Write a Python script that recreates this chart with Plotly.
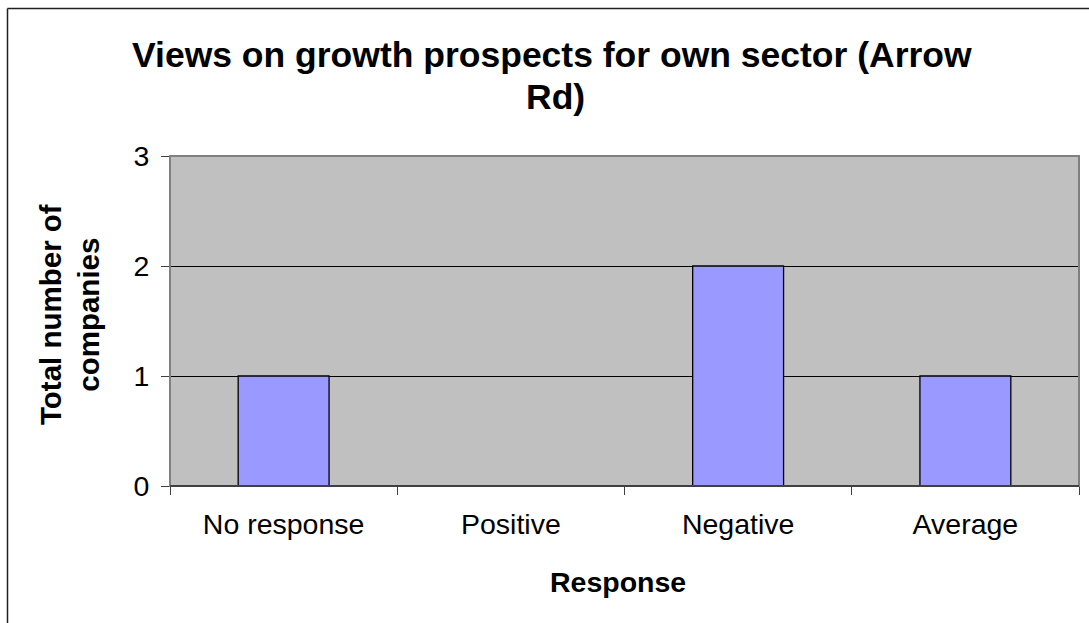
import plotly.graph_objects as go

categories = ["No response", "Positive", "Negative", "Average"]
values = [1, 0, 2, 1]
y_ticks = [0, 1, 2, 3]
title_lines = ["Views on growth prospects for own sector (Arrow", "Rd)"]
x_title = "Response"
y_title = "Total number of<br>companies"

W, H = 1089, 623
L, R, T, B = 170, 10, 156, 137
PW, PH = W - L - R, H - T - B

def px(x):
    return (x - L) / PW

def py(y):
    return (H - B - y) / PH

FONT = "Liberation Sans, Arial, sans-serif"

fig = go.Figure(go.Bar(
    x=categories, y=values,
    marker=dict(color="#9999FF", line=dict(color="black", width=1.3)),
))

fig.update_layout(
    width=W, height=H,
    margin=dict(l=L, r=R, t=T, b=B, autoexpand=False),
    paper_bgcolor="white", plot_bgcolor="#C0C0C0",
    bargap=0.6, showlegend=False,
    font=dict(family=FONT, size=28, color="black"),
)
fig.update_xaxes(
    type="category", tickson="boundaries", ticks="outside", ticklen=8,
    tickcolor="#404040", showline=True, linecolor="black", linewidth=1,
    showgrid=False, tickfont=dict(size=28.5), ticklabelstandoff=13,
)
fig.update_yaxes(
    range=[0, 3], tickvals=y_ticks, ticks="outside", ticklen=8,
    tickcolor="#404040", showline=True, linecolor="#404040", linewidth=1,
    showgrid=True, gridcolor="black", gridwidth=1, zeroline=False,
    tickfont=dict(size=28.5), ticklabelstandoff=6,
)

shapes = [
    dict(type="rect", xref="paper", yref="paper", x0=0, x1=1, y0=0, y1=1,
         line=dict(color="#808080", width=2), layer="above"),
    dict(type="line", xref="paper", yref="paper", x0=0, x1=1, y0=0, y1=0,
         line=dict(color="black", width=1), layer="above"),
    dict(type="line", xref="paper", yref="paper", x0=px(7.5), x1=px(1100), y0=py(8.5), y1=py(8.5),
         line=dict(color="#202020", width=1.5), layer="above"),
    dict(type="line", xref="paper", yref="paper", x0=px(7.5), x1=px(7.5), y0=py(8.5), y1=py(640),
         line=dict(color="#202020", width=1.5), layer="above"),
]
fig.update_layout(shapes=shapes)

annotations = [
    dict(text="<b>%s</b>" % title_lines[0], x=px(552), y=py(55), xref="paper", yref="paper",
         showarrow=False, xanchor="center", yanchor="middle", font=dict(size=35.5, family=FONT)),
    dict(text="<b>%s</b>" % title_lines[1], x=px(555), y=py(97), xref="paper", yref="paper",
         showarrow=False, xanchor="center", yanchor="middle", font=dict(size=35.5, family=FONT)),
    dict(text="<b>%s</b>" % x_title, x=px(618), y=py(582), xref="paper", yref="paper",
         showarrow=False, xanchor="center", yanchor="middle", font=dict(size=28.5, family=FONT)),
    dict(text="<b>%s</b>" % y_title, x=px(69), y=py(315), xref="paper", yref="paper",
         showarrow=False, xanchor="center", yanchor="middle", textangle=-90,
         font=dict(size=29.5, family=FONT)),
]
fig.update_layout(annotations=annotations)

fig.write_html("out.html", config={"displayModeBar": False},
               post_script="document.body.style.margin='0';document.body.style.overflow='hidden';")
